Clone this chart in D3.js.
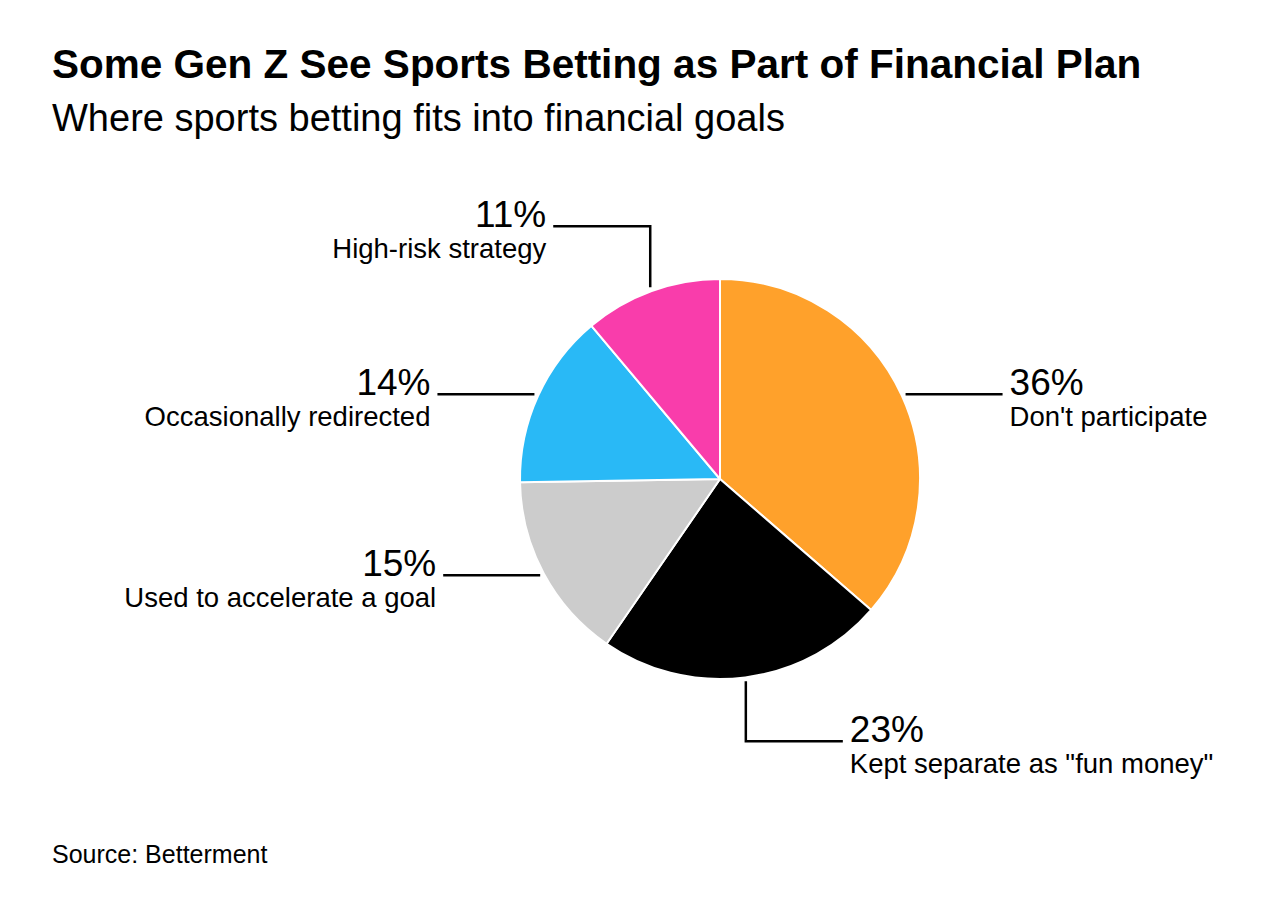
<!DOCTYPE html>
<html>
<head>
<meta charset="utf-8">
<script src="https://cdn.jsdelivr.net/npm/d3@7"></script>
<style>
  body { margin: 0; background: #fff; }
  svg text { font-family: "Liberation Sans", Arial, Helvetica, sans-serif; fill: #000; }
</style>
</head>
<body>
<svg id="chart" width="1288" height="902"></svg>
<script>
// data
const categories = ["Don't participate", 'Kept separate as "fun money"', "Used to accelerate a goal", "Occasionally redirected", "High-risk strategy"];
const values = [36, 23, 15, 14, 11];
const colors = ["#ffa12b", "#000000", "#cccccc", "#29b9f6", "#f93dab"];

const W = 1288, H = 902;
const cx = 720, cy = 479, R = 200;

const svg = d3.select("#chart");

// title block
svg.append("text").attr("x", 52).attr("y", 78)
  .attr("font-size", 40.5).attr("font-weight", "bold")
  .text("Some Gen Z See Sports Betting as Part of Financial Plan");
svg.append("text").attr("x", 52).attr("y", 131)
  .attr("font-size", 38)
  .text("Where sports betting fits into financial goals");
svg.append("text").attr("x", 52).attr("y", 863)
  .attr("font-size", 25)
  .text("Source: Betterment");

const slices = values.map((v, i) => ({ name: categories[i], value: v, color: colors[i] }));

const pie = d3.pie().value(d => d.value).sort(null);
const arc = d3.arc().innerRadius(0).outerRadius(R);
const edge = d3.arc().innerRadius(R + 4).outerRadius(R + 4);

const g = svg.append("g").attr("transform", `translate(${cx},${cy})`);
const arcs = pie(slices);

g.selectAll("path.slice")
  .data(arcs)
  .enter()
  .append("path")
  .attr("class", "slice")
  .attr("d", arc)
  .attr("fill", d => d.data.color)
  .attr("stroke", "#fff")
  .attr("stroke-width", 2)
  .attr("stroke-linejoin", "round");

// leader style per slice: which way the label goes, and the elbow (vertical leg) if any
const leaderSide = [1, 1, -1, -1, -1];
const leaderElbow = [0, 60, 0, 0, -61];
const leaderLen = 97;

arcs.forEach((d, i) => {
  const [x0, y0] = edge.centroid(d);
  const side = leaderSide[i];
  const y1 = y0 + leaderElbow[i];
  const x1 = x0 + side * leaderLen;
  const pts = leaderElbow[i] ? [[x0, y0], [x0, y1], [x1, y1]] : [[x0, y0], [x1, y1]];

  g.append("path")
    .attr("d", d3.line()(pts))
    .attr("fill", "none")
    .attr("stroke", "#000")
    .attr("stroke-width", 2.5);

  const tx = x1 + side * 7;
  const anchor = side > 0 ? "start" : "end";
  g.append("text")
    .attr("x", tx).attr("y", y1 + 1)
    .attr("text-anchor", anchor)
    .attr("font-size", 37)
    .text(d.data.value + "%");
  g.append("text")
    .attr("x", tx).attr("y", y1 + 32)
    .attr("text-anchor", anchor)
    .attr("font-size", 27.5)
    .text(d.data.name);
});
</script>
</body>
</html>
